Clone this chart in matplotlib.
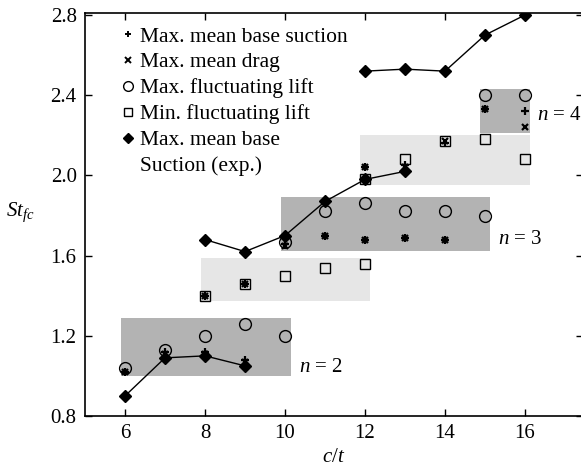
import matplotlib
matplotlib.use("Agg")
import matplotlib.pyplot as plt
from matplotlib.lines import Line2D
from matplotlib.patches import Rectangle

plt.rcParams['font.family'] = ['Liberation Serif', 'DejaVu Serif']
plt.rcParams['mathtext.fontset'] = 'custom'
plt.rcParams['mathtext.it'] = 'Liberation Serif:italic'
plt.rcParams['mathtext.rm'] = 'Liberation Serif'

# Max. mean base suction (+)
suc_x = [6, 7, 8, 9, 8, 9, 10, 11, 12, 13, 14, 12, 13, 14, 15, 16]
suc_y = [1.02, 1.12, 1.12, 1.08, 1.40, 1.46, 1.66, 1.70, 1.68, 1.69, 1.68, 2.04, 2.05, 2.16, 2.33, 2.32]
# Max. mean drag (x)
drag_x = [6, 7, 8, 9, 8, 9, 10, 11, 12, 13, 14, 12, 13, 14, 15, 16]
drag_y = [1.02, 1.11, 1.11, 1.07, 1.40, 1.46, 1.65, 1.70, 1.68, 1.69, 1.68, 2.04, 2.04, 2.17, 2.33, 2.24]
# Max. fluctuating lift (o)
maxl_x = [6, 7, 8, 9, 10, 10, 11, 12, 13, 14, 15, 15, 16]
maxl_y = [1.04, 1.13, 1.20, 1.26, 1.20, 1.67, 1.82, 1.86, 1.82, 1.82, 1.80, 2.40, 2.40]
# Min. fluctuating lift (square)
minl_x = [8, 9, 10, 11, 12, 12, 13, 14, 15, 16]
minl_y = [1.40, 1.46, 1.50, 1.54, 1.56, 1.98, 2.08, 2.17, 2.18, 2.08]
# Max. mean base suction (exp.), three separate branches
exp1_x = [6, 7, 8, 9]
exp1_y = [0.90, 1.09, 1.10, 1.05]
exp2_x = [8, 9, 10, 11, 12, 13]
exp2_y = [1.68, 1.62, 1.70, 1.87, 1.98, 2.02]
exp3_x = [12, 13, 14, 15, 16]
exp3_y = [2.52, 2.53, 2.52, 2.70, 2.80]

# shaded regions: (x0, x1, y0, y1, colour)
box_x0 = [5.9, 7.9, 9.89, 11.88, 14.88]
box_x1 = [10.14, 12.13, 15.13, 16.12, 16.12]
box_y0 = [1.00, 1.375, 1.625, 1.95, 2.21]
box_y1 = [1.29, 1.59, 1.89, 2.20, 2.43]
box_c = ['#b3b3b3', '#e6e6e6', '#b3b3b3', '#e6e6e6', '#b3b3b3']

mode_labels = ['$n$ = 2', '$n$ = 3', '$n$ = 4']
mode_x = [10.35, 15.33, 16.3]
mode_y = [1.04, 1.68, 2.30]

xticks = [6, 8, 10, 12, 14, 16]
yticks = [0.8, 1.2, 1.6, 2.0, 2.4, 2.8]

fig = plt.figure(figsize=(5.81, 4.69), dpi=100)
ax = fig.add_axes([85/581, 53/469, 498/581, 403/469])

for x0, x1, y0, y1, c in zip(box_x0, box_x1, box_y0, box_y1, box_c):
    ax.add_patch(Rectangle((x0, y0), x1 - x0, y1 - y0, facecolor=c, edgecolor='none', zorder=0))

for ex, ey in [(exp1_x, exp1_y), (exp2_x, exp2_y), (exp3_x, exp3_y)]:
    ax.plot(ex, ey, '-', color='black', lw=1.0, marker='D', ms=6, mfc='black', mec='black', zorder=3)

ax.plot(maxl_x, maxl_y, 'o', ms=8.5, mfc='none', mec='black', mew=1.0, zorder=4)
ax.plot(minl_x, minl_y, 's', ms=7, mfc='none', mec='black', mew=1.0, zorder=4)
ax.plot(suc_x, suc_y, '+', ms=6, mec='black', mew=1.6, zorder=5)
ax.plot(drag_x, drag_y, 'x', ms=5, mec='black', mew=1.6, zorder=5)

for t, x, y in zip(mode_labels, mode_x, mode_y):
    ax.text(x, y, t, fontsize=15, va='center', ha='left')

ax.set_xlim(5, 17.45)
ax.set_ylim(0.8, 2.81)
ax.set_xticks(xticks)
ax.set_yticks(yticks)
ax.set_yticklabels([f'{v:.1f}' for v in yticks])
ax.tick_params(direction='in', length=5, width=1, top=True, right=True, labelsize=15, pad=6)
for s in ax.spines.values():
    s.set_linewidth(1.2)

ax.set_xlabel('$c/t$', fontsize=15, labelpad=3)
ax.set_ylabel('$St_{fc}$', fontsize=15, rotation=0, labelpad=24, va='center')
ax.yaxis.set_label_coords(-0.13, 0.505)

handles = [
    Line2D([], [], ls='none', marker='+', ms=5, mec='black', mew=1.4),
    Line2D([], [], ls='none', marker='x', ms=4.5, mec='black', mew=1.4),
    Line2D([], [], ls='none', marker='o', ms=7, mfc='none', mec='black', mew=1.0),
    Line2D([], [], ls='none', marker='s', ms=6, mfc='none', mec='black', mew=1.0),
    Line2D([], [], ls='none', marker='D', ms=5, mfc='black', mec='black'),
    Line2D([], [], ls='none', marker=None),
]
labels = ['Max. mean base suction', 'Max. mean drag', 'Max. fluctuating lift',
          'Min. fluctuating lift', 'Max. mean base', 'Suction (exp.)']
ax.legend(handles, labels, loc='upper left', bbox_to_anchor=(0.058, 0.988), frameon=False,
          fontsize=15.5, handlelength=0.5, handletextpad=0.3, labelspacing=0.27, borderaxespad=0)

fig.savefig('out.png', dpi=100)
